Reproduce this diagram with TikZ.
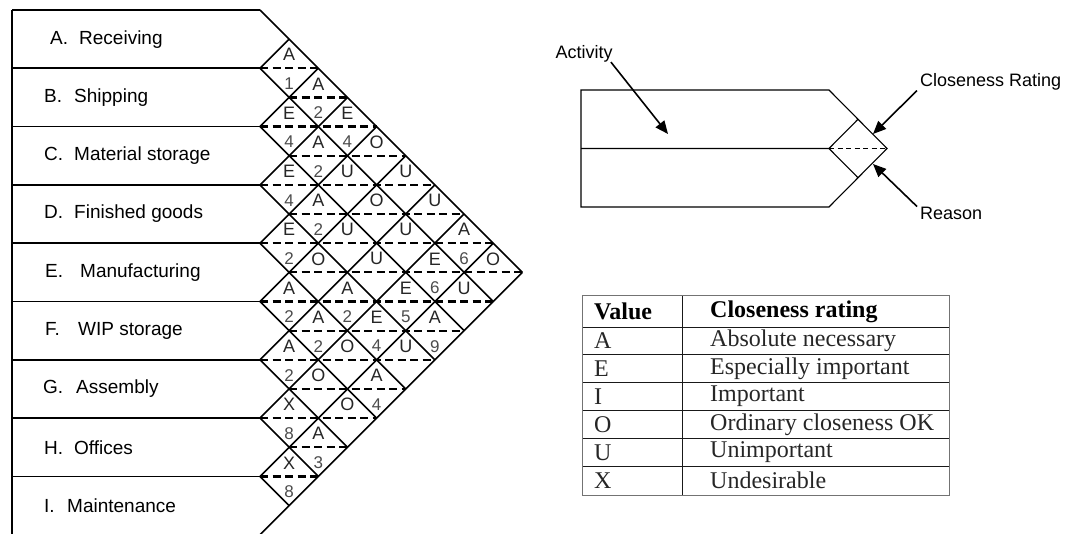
\documentclass[tikz,border=0pt]{standalone}
\usepackage{fontspec}
\setmainfont{Liberation Sans}
\newfontfamily\serifface{Liberation Serif}
\usetikzlibrary{arrows.meta}

\begin{document}
\begin{tikzpicture}[x=1pt, y=-1pt,
  frame/.style={line width=1.6pt, line join=miter},
  split/.style={line width=2.2pt, dash pattern=on 8pt off 4.5pt},
  keyframe/.style={line width=1.1pt},
  keysplit/.style={line width=1pt, dash pattern=on 5pt off 3.5pt},
  dept/.style={anchor=west, inner sep=0pt, font=\fontsize{19}{21}\selectfont},
  rate/.style={inner sep=0pt, text=black!85, font=\fontsize{18}{18}\selectfont},
  why/.style={inner sep=0pt, text=black!70, font=\fontsize{17}{17}\selectfont},
  callout/.style={anchor=west, inner sep=0pt, font=\fontsize{18}{20}\selectfont},
  pointer/.style={line width=1.6pt, -{Triangle[length=13pt, width=11pt]}},
  border/.style={line width=1pt, draw=black!55},
  rule/.style={line width=0.9pt, draw=black!90},
  cell/.style={inner sep=0pt, anchor=west, text=black!85, font=\serifface\fontsize{24}{26}\selectfont},
  head/.style={inner sep=0pt, anchor=west, font=\serifface\bfseries\fontsize{24}{26}\selectfont},
]
\useasboundingbox (0,0) rectangle (1084,534);

% ---------- relationship chart ----------
\def\h{58.3}
\def\xo{260}
\def\yo{10}

% department bands
\draw[frame] (12,\yo) -- (12,{\yo+9*\h});
\foreach \k in {0,...,9}
  \draw[frame] (12,{\yo+\k*\h}) -- (\xo,{\yo+\k*\h});

\foreach \k/\px/\pre/\gap/\txt in {0/50/A./29/Receiving, 1/44/B./30/Shipping,
    2/44/C./30/Material storage, 3/44/D./30/Finished goods, 4/45/E./35/Manufacturing,
    5/45/F./33/WIP storage, 6/43/G./33/Assembly, 7/44/H./30/Offices,
    8/44/I./23/Maintenance}
  \node[dept] (dept\k) at (\px,{\yo+(\k+0.5)*\h}) {\makebox[\gap pt][l]{\pre}\txt};

% diagonal grid lines
\foreach \k in {0,...,8}
  \draw[frame] (\xo,{\yo+\k*\h}) -- ++({(9-\k)*\h/2},{(9-\k)*\h/2});
\foreach \k in {1,...,9}
  \draw[frame] (\xo,{\yo+\k*\h}) -- ++({\k*\h/2},{-\k*\h/2});

% dashed split through every diamond
\foreach \m in {2,...,16} {
  \pgfmathsetmacro\ul{mod(\m,2)==0 ? 0 : \h/2}
  \pgfmathsetmacro\ur{min(\m,18-\m)*\h/2}
  \draw[split] ({\xo+\ul},{\yo+\m*\h/2}) -- ({\xo+\ur},{\yo+\m*\h/2});
}

% closeness ratings (upper half of each diamond)
\foreach \i/\j/\r in {0/1/A, 0/2/A, 0/3/E, 0/4/O, 0/5/U, 0/6/U, 0/7/A, 0/8/O,
    1/2/E, 1/3/A, 1/4/U, 1/5/O, 1/6/U, 1/7/E, 1/8/U,
    2/3/E, 2/4/A, 2/5/U, 2/6/U, 2/7/E, 2/8/A,
    3/4/E, 3/5/O, 3/6/A, 3/7/E, 3/8/U,
    4/5/A, 4/6/A, 4/7/O, 4/8/A,
    5/6/A, 5/7/O, 5/8/O,
    6/7/X, 6/8/A,
    7/8/X} {
  \coordinate (c\i\j) at ({\xo+(\j-\i)*\h/2},{\yo+(\i+\j+1)*\h/2});
  \node[rate] (r\i\j) at ([yshift=13.5pt]c\i\j) {\r};
}

% reasons (lower half)
\foreach \i/\j/\n in {0/1/1, 0/2/2, 0/3/4, 0/7/6, 1/2/4, 1/3/2, 1/7/6,
    2/3/4, 2/4/2, 2/7/5, 2/8/9, 3/4/2, 3/6/2, 3/7/4,
    4/5/2, 4/6/2, 4/8/4, 5/6/2, 6/7/8, 6/8/3, 7/8/8}
  \node[why] (n\i\j) at ([yshift=-15.5pt]c\i\j) {\n};

% ---------- key ----------
\draw[keyframe] (829,90) -- (581,90) -- (581,207) -- (829,207) -- (858,177.75)
  -- (887,148.5) -- (858,119.25) -- cycle;
\draw[keyframe] (581,148.5) -- (829,148.5) -- (858,119.25);
\draw[keyframe] (829,148.5) -- (858,177.75);
\draw[keysplit] (829,148.5) -- (887,148.5);

\node[callout] (act) at (555.5,53.5) {Activity};
\coordinate (actTip) at (668,134);
\draw[pointer] ([xshift=-2pt]act.south east) -- (actTip);

\node[callout] (crl) at (920,82) {Closeness Rating};
\coordinate (crTip) at (873,134);
\draw[pointer] ([xshift=-3pt]crl.south west) -- (crTip);

\node[callout] (rsn) at (920,213) {Reason};
\coordinate (rsTip) at (873,164);
\draw[pointer] ([xshift=-3pt]rsn.north west) -- (rsTip);

% ---------- rating table ----------
\foreach \y in {327,354.5,382.5,410.5,438.5,466.5}
  \draw[rule] (582,\y) -- (949,\y);
\draw[rule] (682,296) -- (682,495);
\draw[border] (582,296) rectangle (949,495);

\node[head] (hval) at (594,311.5) {Value};
\node[head] (hcls) at (710,311.5) {Closeness rating};
\foreach \k/\v/\d in {0/A/Absolute necessary, 1/E/Especially important, 2/I/Important,
    3/O/Ordinary closeness OK, 4/U/Unimportant, 5/X/Undesirable} {
  \node[cell] (val\k) at (594,{340.5+\k*28}) {\v};
  \node[cell] (dsc\k) at (710,{340.5+\k*28}) {\d};
}
\end{tikzpicture}
\end{document}
